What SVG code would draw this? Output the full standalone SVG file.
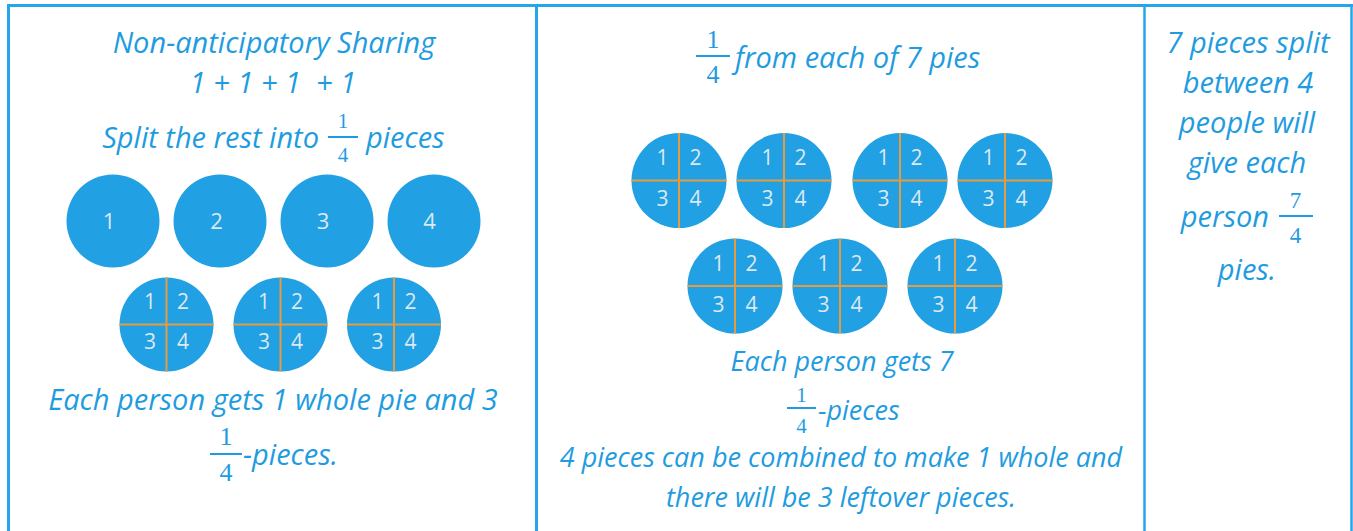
<svg xmlns="http://www.w3.org/2000/svg" width="1353" height="531" viewBox="0 0 1353 531">
<style>
.t{font-family:"Open Sans","Liberation Sans",sans-serif;font-style:italic;fill:#1F9CE0;}
.tl{font-size:29px;}
.tm{font-size:27px;}
.tr{font-size:29px;}
.c{text-anchor:middle;}
.e{text-anchor:end;}
.fr{font-family:"Liberation Serif","DejaVu Serif",serif;fill:#1F9CE0;text-anchor:middle;}
.bar{stroke:#1F9CE0;stroke-width:2;}
.pie{fill:#21A0E3;}
.cut{stroke:#E89B3C;stroke-width:2;}
.d{font-family:"Open Sans","Liberation Sans",sans-serif;fill:#DCE9F2;text-anchor:middle;font-size:21px;}
.dw{font-size:22px;}
.bd{stroke:#25A6EA;fill:none;}
</style>
<rect width="1353" height="531" fill="#ffffff"/>
<g id="table">
<line class="bd" x1="7" y1="5.5" x2="1353" y2="5.5" stroke-width="3"/>
<line class="bd" x1="8.5" y1="4" x2="8.5" y2="531" stroke-width="3"/>
<line class="bd" x1="536.5" y1="4" x2="536.5" y2="531" stroke-width="3"/>
<line class="bd" x1="1144.5" y1="4" x2="1144.5" y2="531" stroke-width="2.5"/>
<line class="bd" x1="1351.5" y1="4" x2="1351.5" y2="531" stroke-width="2.5"/>
</g>
<g id="cell-left">
<text class="t tl c" x="274" y="53">Non-anticipatory Sharing</text>
<text class="t tl c" x="273" y="93" xml:space="preserve">1 + 1 + 1  + 1</text>
<text class="t tl e" x="319" y="148">Split the rest into</text>
<text class="fr" x="343" y="128" font-size="21">1</text>
<line class="bar" x1="328" y1="137" x2="358" y2="137"/>
<text class="fr" x="343" y="162" font-size="21">4</text>
<text class="t tl" x="366" y="148">pieces</text>
<g id="pie-whole-1"><circle class="pie" cx="113" cy="221" r="46.5"/><text class="d dw" x="109" y="228.5">1</text></g>
<g id="pie-whole-2"><circle class="pie" cx="220" cy="221" r="46.5"/><text class="d dw" x="216.5" y="228.5">2</text></g>
<g id="pie-whole-3"><circle class="pie" cx="327" cy="221" r="46.5"/><text class="d dw" x="323" y="228.5">3</text></g>
<g id="pie-whole-4"><circle class="pie" cx="434" cy="221" r="46.5"/><text class="d dw" x="429.5" y="228.5">4</text></g>
<g id="pie-left-q1"><circle class="pie" cx="166.5" cy="324.5" r="47"/><line class="cut" x1="119.5" y1="324.5" x2="213.5" y2="324.5"/><line class="cut" x1="166.5" y1="277.5" x2="166.5" y2="371.5"/><text class="d" x="150" y="308.5">1</text><text class="d" x="183" y="308.5">2</text><text class="d" x="150" y="349">3</text><text class="d" x="183" y="349">4</text></g>
<g id="pie-left-q2"><circle class="pie" cx="280.5" cy="324.5" r="47"/><line class="cut" x1="233.5" y1="324.5" x2="327.5" y2="324.5"/><line class="cut" x1="280.5" y1="277.5" x2="280.5" y2="371.5"/><text class="d" x="264" y="308.5">1</text><text class="d" x="297" y="308.5">2</text><text class="d" x="264" y="349">3</text><text class="d" x="297" y="349">4</text></g>
<g id="pie-left-q3"><circle class="pie" cx="394" cy="324.5" r="47"/><line class="cut" x1="347" y1="324.5" x2="441" y2="324.5"/><line class="cut" x1="394" y1="277.5" x2="394" y2="371.5"/><text class="d" x="377.5" y="308.5">1</text><text class="d" x="410.5" y="308.5">2</text><text class="d" x="377.5" y="349">3</text><text class="d" x="410.5" y="349">4</text></g>
<text class="t tl c" x="273" y="410">Each person gets 1 whole pie and 3</text>
<text class="fr" x="226" y="445" font-size="26">1</text>
<line class="bar" x1="210" y1="454" x2="242" y2="454"/>
<text class="fr" x="226" y="481" font-size="26">4</text>
<text class="t tl" x="243" y="465">-pieces.</text>
</g>
<g id="cell-middle">
<text class="fr" x="713" y="48" font-size="26">1</text>
<line class="bar" x1="696" y1="56" x2="730" y2="56"/>
<text class="fr" x="713" y="83" font-size="26">4</text>
<text class="t tl" x="735" y="68">from each of 7 pies</text>
<g id="pie-mid-1"><circle class="pie" cx="679" cy="180.5" r="47.5"/><line class="cut" x1="631.5" y1="180.5" x2="726.5" y2="180.5"/><line class="cut" x1="679" y1="133" x2="679" y2="228"/><text class="d" x="662.5" y="165">1</text><text class="d" x="695.5" y="165">2</text><text class="d" x="662.5" y="206">3</text><text class="d" x="695.5" y="206">4</text></g>
<g id="pie-mid-2"><circle class="pie" cx="784" cy="180.5" r="47.5"/><line class="cut" x1="736.5" y1="180.5" x2="831.5" y2="180.5"/><line class="cut" x1="784" y1="133" x2="784" y2="228"/><text class="d" x="767.5" y="165">1</text><text class="d" x="800.5" y="165">2</text><text class="d" x="767.5" y="206">3</text><text class="d" x="800.5" y="206">4</text></g>
<g id="pie-mid-3"><circle class="pie" cx="900" cy="180.5" r="47.5"/><line class="cut" x1="852.5" y1="180.5" x2="947.5" y2="180.5"/><line class="cut" x1="900" y1="133" x2="900" y2="228"/><text class="d" x="883.5" y="165">1</text><text class="d" x="916.5" y="165">2</text><text class="d" x="883.5" y="206">3</text><text class="d" x="916.5" y="206">4</text></g>
<g id="pie-mid-4"><circle class="pie" cx="1005" cy="180.5" r="47.5"/><line class="cut" x1="957.5" y1="180.5" x2="1052.5" y2="180.5"/><line class="cut" x1="1005" y1="133" x2="1005" y2="228"/><text class="d" x="988.5" y="165">1</text><text class="d" x="1021.5" y="165">2</text><text class="d" x="988.5" y="206">3</text><text class="d" x="1021.5" y="206">4</text></g>
<g id="pie-mid-5"><circle class="pie" cx="735" cy="286" r="47.5"/><line class="cut" x1="687.5" y1="286" x2="782.5" y2="286"/><line class="cut" x1="735" y1="238.5" x2="735" y2="333.5"/><text class="d" x="718.5" y="270.5">1</text><text class="d" x="751.5" y="270.5">2</text><text class="d" x="718.5" y="311.5">3</text><text class="d" x="751.5" y="311.5">4</text></g>
<g id="pie-mid-6"><circle class="pie" cx="840" cy="286" r="47.5"/><line class="cut" x1="792.5" y1="286" x2="887.5" y2="286"/><line class="cut" x1="840" y1="238.5" x2="840" y2="333.5"/><text class="d" x="823.5" y="270.5">1</text><text class="d" x="856.5" y="270.5">2</text><text class="d" x="823.5" y="311.5">3</text><text class="d" x="856.5" y="311.5">4</text></g>
<g id="pie-mid-7"><circle class="pie" cx="955" cy="286" r="47.5"/><line class="cut" x1="907.5" y1="286" x2="1002.5" y2="286"/><line class="cut" x1="955" y1="238.5" x2="955" y2="333.5"/><text class="d" x="938.5" y="270.5">1</text><text class="d" x="971.5" y="270.5">2</text><text class="d" x="938.5" y="311.5">3</text><text class="d" x="971.5" y="311.5">4</text></g>
<text class="t tm c" x="842" y="371">Each person gets 7</text>
<text class="fr" x="801.5" y="402" font-size="21">1</text>
<line class="bar" x1="787" y1="408" x2="816" y2="408"/>
<text class="fr" x="801.5" y="433" font-size="21">4</text>
<text class="t tm" x="818" y="420">-pieces</text>
<text class="t tm c" x="841" y="467">4 pieces can be combined to make 1 whole and</text>
<text class="t tm c" x="841" y="507">there will be 3 leftover pieces.</text>
</g>
<g id="cell-right">
<text class="t tr c" x="1248" y="53">7 pieces split</text>
<text class="t tr c" x="1248" y="93">between 4</text>
<text class="t tr c" x="1247" y="133">people will</text>
<text class="t tr c" x="1247" y="173">give each</text>
<text class="t tr e" x="1269" y="227">person</text>
<text class="fr" x="1295.5" y="208" font-size="23">7</text>
<line class="bar" x1="1279" y1="216" x2="1313" y2="216"/>
<text class="fr" x="1295.5" y="243" font-size="23">4</text>
<text class="t tr c" x="1247" y="280">pies.</text>
</g>
</svg>
